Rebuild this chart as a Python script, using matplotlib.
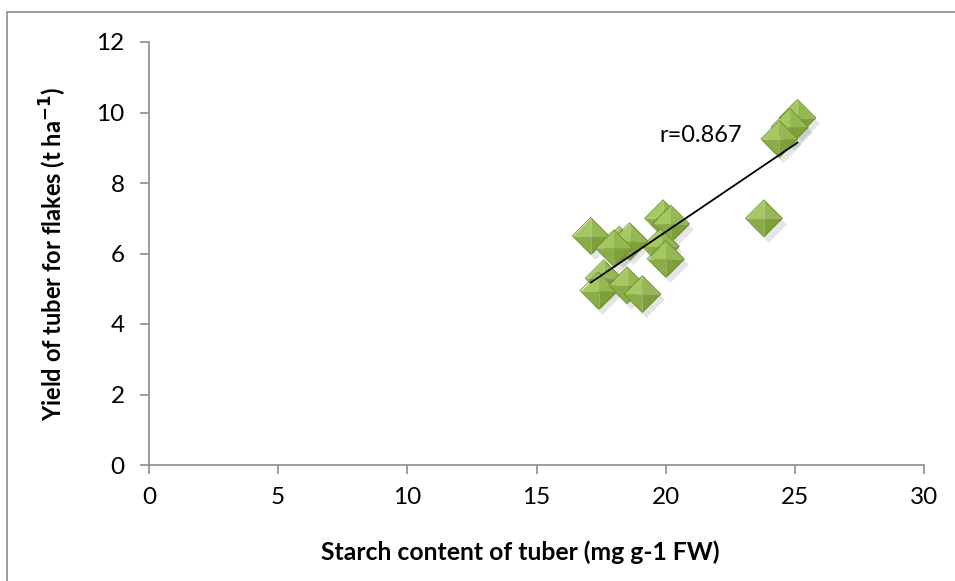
import numpy as np
import matplotlib
matplotlib.use("Agg")
import matplotlib.pyplot as plt
from matplotlib.patches import Rectangle

# values
starch = [17.1, 18.2, 18.6, 18.0, 19.9, 20.2, 19.8, 20.0, 17.6, 17.4, 18.5, 19.1,
          25.1, 24.8, 24.4, 23.8]
yield_flakes = [6.5, 6.25, 6.35, 6.15, 7.0, 6.85, 6.2, 5.85, 5.3, 4.95, 5.1, 4.85,
                9.85, 9.6, 9.25, 7.0]
x_ticks = [0, 5, 10, 15, 20, 25, 30]
y_ticks = [0, 2, 4, 6, 8, 10, 12]
r_label = "r=0.867"

plt.rcParams['font.family'] = ['Lato', 'DejaVu Sans']

fig = plt.figure(figsize=(9.55, 5.81), dpi=100)
ax = fig.add_axes([149 / 955, 1 - 465 / 581, 775 / 955, 423 / 581])

# outer chart frame (only top and left edges show)
fig.patches.append(Rectangle((7 / 955, -0.05), 1.2, 1 - 12 / 581 + 0.05,
                             transform=fig.transFigure, fill=False,
                             edgecolor='#8c8c8c', linewidth=1.2))

x = np.array(starch)
y = np.array(yield_flakes)

# pyramid-looking diamonds: four facets per point
facets = [
    ([(0, 1), (-1, 0), (0, 0)], '#a6c862'),   # upper left
    ([(0, 1), (1, 0), (0, 0)], '#95b853'),    # upper right
    ([(-1, 0), (0, -1), (0, 0)], '#8aae47'),  # lower left
    ([(1, 0), (0, -1), (0, 0)], '#7e9f3c'),   # lower right
]
size = 700
ax.scatter(x + 0.15, y - 0.15, marker='D', s=size * 0.5, color='black',
           alpha=0.10, linewidths=0, zorder=2)
for i in range(len(x)):
    for verts, col in facets:
        ax.scatter(x[i], y[i], marker=verts, s=size, color=col, linewidths=0,
                   zorder=3 + i * 0.01)
    ax.scatter(x[i], y[i], marker='D', s=size * 0.5, facecolor='none',
               edgecolor='#6f8f2c', linewidths=0.6, zorder=3 + i * 0.01 + 0.005)

# linear trendline over the data range
slope, icpt = np.polyfit(x, y, 1)
xs = np.array([x.min(), x.max()])
ax.plot(xs, slope * xs + icpt, color='black', linewidth=1.3, zorder=4)

ax.text(19.75, 9.35, r_label, fontsize=17, va='center', ha='left')

ax.set_xlim(0, 30)
ax.set_ylim(0, 12)
ax.set_xticks(x_ticks)
ax.set_yticks(y_ticks)
ax.tick_params(axis='both', direction='out', length=6.5, width=1.2,
               color='#8c8c8c', labelsize=17.5)
ax.tick_params(axis='y', pad=11)
ax.tick_params(axis='x', pad=9)
for side in ['top', 'right']:
    ax.spines[side].set_visible(False)
for side in ['left', 'bottom']:
    ax.spines[side].set_color('#8c8c8c')
    ax.spines[side].set_linewidth(1.2)

ax.set_xlabel('Starch content of tuber (mg g-1 FW)', fontsize=17.8,
              fontweight='bold', va='center')
ax.set_ylabel('Yield of tuber for flakes (t ha$^{\\mathbf{-1}}$)', fontsize=17,
              fontweight='bold', va='center')
ax.xaxis.set_label_coords((520 - 149) / 775, (465 - 552) / 423)
ax.yaxis.set_label_coords((53 - 149) / 775, 0.5)

fig.savefig('out.png', dpi=100)
